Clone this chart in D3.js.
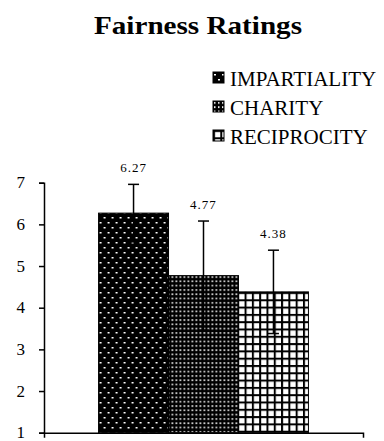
<!DOCTYPE html>
<html>
<head>
<meta charset="utf-8">
<script src="https://cdn.jsdelivr.net/npm/d3@7"></script>
<style>
  body { margin: 0; background: #fff; }
  svg text { font-family: "Liberation Serif", "DejaVu Serif", serif; fill: #000; }
</style>
</head>
<body>
<div class="chart"></div>
<script>
const width = 384;
const height = 441;
const serif = "Liberation Serif";

// data
const groups = [""];
const series = ["IMPARTIALITY", "CHARITY", "RECIPROCITY"];
const means = [6.27, 4.77, 4.38];
const errors = [0.69, 1.31, 1.0];
const yTicks = [1, 2, 3, 4, 5, 6, 7];

const margin = { left: 44, right: 21, top: 182.7, bottom: 8.3 };

const svg = d3.select(".chart")
  .append("svg")
  .attr("width", width)
  .attr("height", height);

const defs = svg.append("defs");

// impartiality: black with staggered white dots
const p1 = defs.append("pattern")
  .attr("id", "pat0").attr("patternUnits", "userSpaceOnUse")
  .attr("width", 8).attr("height", 10);
p1.append("rect").attr("width", 8).attr("height", 10).attr("fill", "#000");
p1.append("rect").attr("x", 1).attr("y", 2).attr("width", 2).attr("height", 1.5).attr("fill", "#fff");
p1.append("rect").attr("x", 5).attr("y", 7).attr("width", 2).attr("height", 1.5).attr("fill", "#fff");

// charity: fine dense dots
const p2 = defs.append("pattern")
  .attr("id", "pat1").attr("patternUnits", "userSpaceOnUse")
  .attr("width", 4).attr("height", 4.3);
p2.append("rect").attr("width", 4).attr("height", 4.3).attr("fill", "#000");
p2.append("rect").attr("x", 1).attr("y", 1).attr("width", 1.5).attr("height", 1.7).attr("fill", "#fff");

// reciprocity: white with black grid
const p3 = defs.append("pattern")
  .attr("id", "pat2").attr("patternUnits", "userSpaceOnUse")
  .attr("width", 7.3).attr("height", 7.3);
p3.append("rect").attr("width", 7.3).attr("height", 7.3).attr("fill", "#fff");
p3.append("rect").attr("width", 2).attr("height", 7.3).attr("fill", "#000");
p3.append("rect").attr("width", 7.3).attr("height", 2).attr("fill", "#000");

const x0 = d3.scaleBand()
  .domain(groups)
  .range([margin.left, width - margin.right])
  .paddingOuter(0.26);

const x1 = d3.scaleBand()
  .domain(series)
  .range([0, x0.bandwidth()]);

const y = d3.scaleLinear()
  .domain([1, 7])
  .range([height - margin.bottom, margin.top]);

// title
svg.append("text")
  .attr("x", 198)
  .attr("y", 34)
  .attr("text-anchor", "middle")
  .attr("font-family", serif)
  .attr("font-size", 26)
  .attr("font-weight", "bold")
  .attr("textLength", 208)
  .attr("lengthAdjust", "spacingAndGlyphs")
  .text("Fairness Ratings");

// legend
const legend = svg.append("g")
  .attr("class", "legend")
  .selectAll("g")
  .data(series)
  .join("g")
  .attr("transform", (d, i) => `translate(213, ${72 + i * 29})`);

legend.append("rect")
  .attr("width", 11)
  .attr("height", 11)
  .attr("fill", (d, i) => `url(#pat${i})`)
  .attr("stroke", "#000")
  .attr("stroke-width", 1);

legend.append("text")
  .attr("x", 17)
  .attr("y", 14)
  .attr("font-family", serif)
  .attr("font-size", 21)
  .text(d => d);

// bars
const barData = series.map((s, i) => ({ s, i, mean: means[i], err: errors[i] }));

const g = svg.append("g")
  .attr("transform", `translate(${x0(groups[0])},0)`);

g.selectAll("rect.bar")
  .data(barData)
  .join("rect")
  .attr("class", "bar")
  .attr("x", d => x1(d.s))
  .attr("y", d => y(d.mean))
  .attr("width", x1.bandwidth())
  .attr("height", d => y(1) - y(d.mean))
  .attr("fill", d => `url(#pat${d.i})`)
  .attr("stroke", "#000")
  .attr("stroke-width", 1);

// error bars
const cx = d => x1(d.s) + x1.bandwidth() / 2;

g.selectAll("line.err")
  .data(barData)
  .join("line")
  .attr("class", "err")
  .attr("x1", cx).attr("x2", cx)
  .attr("y1", d => y(d.mean - d.err))
  .attr("y2", d => y(d.mean + d.err))
  .attr("stroke", "#000")
  .attr("stroke-width", 1.5);

g.selectAll("line.capTop")
  .data(barData)
  .join("line")
  .attr("class", "capTop")
  .attr("x1", d => cx(d) - 5.5).attr("x2", d => cx(d) + 5.5)
  .attr("y1", d => y(d.mean + d.err))
  .attr("y2", d => y(d.mean + d.err))
  .attr("stroke", "#000")
  .attr("stroke-width", 1.5);

g.selectAll("line.capBot")
  .data(barData)
  .join("line")
  .attr("class", "capBot")
  .attr("x1", d => cx(d) - 5.5).attr("x2", d => cx(d) + 5.5)
  .attr("y1", d => y(d.mean - d.err))
  .attr("y2", d => y(d.mean - d.err))
  .attr("stroke", "#000")
  .attr("stroke-width", 1.5);

// value labels
g.selectAll("text.val")
  .data(barData)
  .join("text")
  .attr("class", "val")
  .attr("x", cx)
  .attr("y", d => y(d.mean + d.err) - 12)
  .attr("text-anchor", "middle")
  .attr("font-family", serif)
  .attr("font-size", 13)
  .attr("letter-spacing", 1)
  .text(d => d.mean.toFixed(2));

// axes
const yAxis = svg.append("g")
  .attr("transform", `translate(${margin.left},0)`)
  .call(d3.axisLeft(y).tickValues(yTicks).tickSize(5).tickPadding(14).tickFormat(d3.format("d")));

yAxis.attr("font-family", serif).attr("font-size", 17);
yAxis.selectAll("text").attr("dy", "0.3em");

svg.append("g")
  .attr("transform", `translate(0,${y(1)})`)
  .call(d3.axisBottom(x0).tickSizeInner(0).tickSizeOuter(5).tickFormat(""));

svg.selectAll(".domain, .tick line")
  .attr("stroke", "#000")
  .attr("stroke-width", 1.5);
</script>
</body>
</html>
